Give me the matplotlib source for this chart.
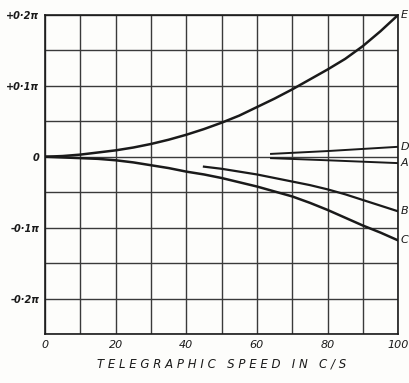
import numpy as np
import matplotlib
matplotlib.use("Agg")
import matplotlib.pyplot as plt

# phase values in units of pi
speed_E = [0, 5, 10, 15, 20, 25, 30, 35, 40, 45, 50, 55, 60, 65, 70, 75, 80, 85, 90, 95, 100]
phase_E = [0, 0.001, 0.003, 0.006, 0.009, 0.013, 0.018, 0.024, 0.031, 0.039, 0.048,
           0.058, 0.070, 0.082, 0.095, 0.109, 0.123, 0.138, 0.156, 0.177, 0.200]

speed_C = [0, 5, 10, 15, 20, 25, 30, 35, 40, 45, 50, 55, 60, 65, 70, 75, 80, 85, 90, 95, 100]
phase_C = [0, -0.001, -0.002, -0.003, -0.005, -0.008, -0.012, -0.016, -0.021, -0.025, -0.030,
           -0.036, -0.042, -0.049, -0.056, -0.065, -0.075, -0.086, -0.097, -0.107, -0.118]

speed_B = [45, 50, 55, 60, 65, 70, 75, 80, 85, 90, 95, 100]
phase_B = [-0.014, -0.017, -0.021, -0.025, -0.030, -0.035, -0.040, -0.046, -0.053, -0.061,
           -0.069, -0.077]

speed_D = [64, 80, 100]
phase_D = [0.004, 0.008, 0.014]

speed_A = [64, 80, 100]
phase_A = [-0.002, -0.005, -0.009]

xticks = [0, 20, 40, 60, 80, 100]
yticks = [-0.2, -0.1, 0, 0.1, 0.2]
ytick_labels = ['-0·2π', '-0·1π', '0', '+0·1π', '+0·2π']

curve_labels = ['E', 'D', 'A', 'B', 'C']
label_y = [0.200, 0.014, -0.009, -0.077, -0.118]

ink = '#1a1a1a'

fig = plt.figure(figsize=(4.10, 3.83), dpi=100, facecolor='#fdfdfb')
ax = fig.add_axes([0.110, 0.128, 0.861, 0.833])
ax.set_facecolor('#fdfdfb')

ax.set_xlim(0, 100)
ax.set_ylim(-0.25, 0.2)

# grid
for gx in np.arange(0, 101, 10):
    ax.axvline(gx, color='#3a3a3a', lw=1.0, zorder=1)
for gy in np.arange(-0.25, 0.201, 0.05):
    ax.axhline(gy, color='#3a3a3a', lw=1.0, zorder=1)

for s in ax.spines.values():
    s.set_color(ink)
    s.set_linewidth(1.2)

ax.plot(speed_E, phase_E, color=ink, lw=1.8, zorder=3)
ax.plot(speed_C, phase_C, color=ink, lw=1.8, zorder=3)
ax.plot(speed_B, phase_B, color=ink, lw=1.6, zorder=3)
ax.plot(speed_D, phase_D, color=ink, lw=1.4, zorder=3)
ax.plot(speed_A, phase_A, color=ink, lw=1.4, zorder=3)

for lab, yv in zip(curve_labels, label_y):
    ax.text(100.8, yv, lab, fontsize=8, style='italic', color=ink,
            ha='left', va='center', clip_on=False)

ax.set_xticks(xticks)
ax.set_xticklabels([str(v) for v in xticks], fontsize=8, style='italic', color=ink)
ax.set_yticks(yticks)
ax.set_yticklabels(ytick_labels, fontsize=7, style='italic', fontweight='bold', color=ink)
ax.tick_params(length=0, pad=4)

ax.set_xlabel('T E L E G R A P H I C   S P E E D   I N   C / S', fontsize=8.5,
              style='italic', color=ink, labelpad=6)

fig.savefig('out.png', dpi=100, facecolor=fig.get_facecolor())
